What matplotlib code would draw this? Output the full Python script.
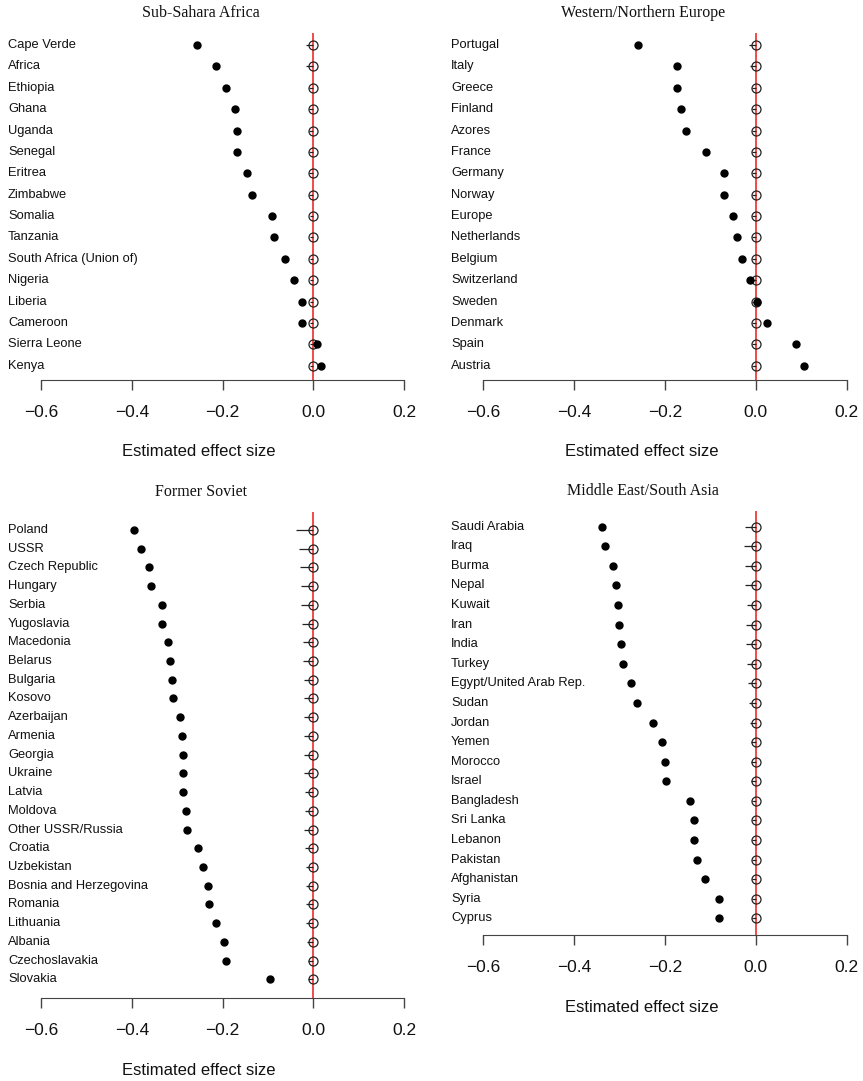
import matplotlib
matplotlib.use("Agg")
import matplotlib.pyplot as plt
import matplotlib.transforms as mtransforms

# ---- data ----
africa_names = ["Cape Verde", "Africa", "Ethiopia", "Ghana", "Uganda", "Senegal", "Eritrea",
                "Zimbabwe", "Somalia", "Tanzania", "South Africa (Union of)", "Nigeria",
                "Liberia", "Cameroon", "Sierra Leone", "Kenya"]
africa_est = [-0.257, -0.214, -0.192, -0.172, -0.169, -0.167, -0.147, -0.134, -0.090, -0.087,
              -0.062, -0.042, -0.024, -0.024, 0.008, 0.016]
africa_ref_low = [-0.016, -0.016, -0.010, -0.010, -0.010, -0.010, -0.010, -0.010, -0.008, -0.008,
                  -0.008, -0.008, -0.008, -0.008, -0.008, -0.008]

europe_names = ["Portugal", "Italy", "Greece", "Finland", "Azores", "France", "Germany", "Norway",
                "Europe", "Netherlands", "Belgium", "Switzerland", "Sweden", "Denmark", "Spain",
                "Austria"]
europe_est = [-0.260, -0.174, -0.173, -0.164, -0.153, -0.109, -0.071, -0.071, -0.051, -0.041,
              -0.031, -0.013, 0.003, 0.025, 0.089, 0.106]
europe_ref_low = [-0.015, -0.012, -0.009, -0.009, -0.009, -0.008, -0.008, -0.008, -0.008, -0.008,
                  -0.008, -0.008, -0.008, -0.008, -0.008, -0.008]

soviet_names = ["Poland", "USSR", "Czech Republic", "Hungary", "Serbia", "Yugoslavia", "Macedonia",
                "Belarus", "Bulgaria", "Kosovo", "Azerbaijan", "Armenia", "Georgia", "Ukraine",
                "Latvia", "Moldova", "Other USSR/Russia", "Croatia", "Uzbekistan",
                "Bosnia and Herzegovina", "Romania", "Lithuania", "Albania", "Czechoslavakia",
                "Slovakia"]
soviet_est = [-0.396, -0.380, -0.363, -0.358, -0.333, -0.333, -0.320, -0.316, -0.312, -0.308,
              -0.293, -0.290, -0.288, -0.287, -0.286, -0.281, -0.278, -0.254, -0.242, -0.231,
              -0.230, -0.214, -0.197, -0.192, -0.095]
soviet_ref_low = [-0.037, -0.032, -0.029, -0.028, -0.026, -0.025, -0.023, -0.022, -0.021, -0.021,
                  -0.021, -0.020, -0.020, -0.020, -0.018, -0.018, -0.020, -0.018, -0.015, -0.016,
                  -0.016, -0.015, -0.013, -0.011, -0.011]

mideast_names = ["Saudi Arabia", "Iraq", "Burma", "Nepal", "Kuwait", "Iran", "India", "Turkey",
                 "Egypt/United Arab Rep.", "Sudan", "Jordan", "Yemen", "Morocco", "Israel",
                 "Bangladesh", "Sri Lanka", "Lebanon", "Pakistan", "Afghanistan", "Syria", "Cyprus"]
mideast_est = [-0.339, -0.332, -0.315, -0.308, -0.303, -0.301, -0.296, -0.292, -0.274, -0.262,
               -0.226, -0.206, -0.200, -0.197, -0.146, -0.137, -0.137, -0.129, -0.111, -0.082,
               -0.082]
mideast_ref_low = [-0.023, -0.026, -0.023, -0.023, -0.020, -0.022, -0.021, -0.020, -0.018, -0.014,
                   -0.012, -0.011, -0.011, -0.011, -0.009, -0.009, -0.009, -0.009, -0.009, -0.009,
                   -0.009]

titles = ["Sub-Sahara Africa", "Western/Northern Europe", "Former Soviet", "Middle East/South Asia"]
xticks = [-0.6, -0.4, -0.2, 0.0, 0.2]
xtick_labels = ["\u22120.6", "\u22120.4", "\u22120.2", "0.0", "0.2"]

# ---- layout in pixels: (data left, data right, top, axis line, first row y, row spacing, label x)
W, H = 863, 1081
panels = [
    (africa_names, africa_est, africa_ref_low, (41, 404, 33, 380, 45, 21.38, 8)),
    (europe_names, europe_est, europe_ref_low, (483.3, 846.7, 33, 380, 45, 21.38, 451)),
    (soviet_names, soviet_est, soviet_ref_low, (41, 404, 511.7, 998.3, 530, 18.72, 8)),
    (mideast_names, mideast_est, mideast_ref_low, (483.3, 846.7, 510.7, 935, 526.7, 19.58, 451)),
]

fig = plt.figure(figsize=(W / 100, H / 100), dpi=100)
sans = "Liberation Sans"
serif = "Liberation Serif"

for (names, est, low, lay), title in zip(panels, titles):
    x0, x1, top, bot, row0, step, labx = lay
    ax = fig.add_axes([x0 / W, 1 - bot / H, (x1 - x0) / W, (bot - top) / H])
    n = len(names)
    rows = list(range(n))
    ax.set_xlim(-0.6, 0.2)
    ax.set_ylim((bot - row0) / step, (top - row0) / step)

    ax.axvline(0, color="#f03c3c", lw=1.3, zorder=1)
    ax.hlines(rows, low, [0] * n, color="#222222", lw=0.9, zorder=2)
    ax.plot([0] * n, rows, "o", ms=6.5, mfc="none", mec="#222222", mew=0.9, zorder=3)
    ax.plot(est, rows, "o", ms=5, color="black", zorder=4)

    for s in ["top", "right", "left"]:
        ax.spines[s].set_visible(False)
    ax.spines["bottom"].set_color("#444444")
    ax.spines["bottom"].set_bounds(-0.6, 0.2)
    ax.set_yticks([])
    ax.set_xticks(xticks)
    ax.set_xticklabels(xtick_labels, fontfamily=sans, fontsize=12.5)
    ax.tick_params(axis="x", length=7, width=1, color="#444444", pad=11, labelcolor="#111111")

    trans = mtransforms.blended_transform_factory(fig.transFigure, ax.transData)
    for i, name in enumerate(names):
        ax.text(labx / W, i, name, transform=trans, ha="left", va="center",
                fontfamily=sans, fontsize=9.3, color="#111111")

    fig.text((x0 + 160) / W, 1 - (top - 20) / H, title, ha="center", va="center",
             fontfamily=serif, fontsize=11.5, color="#111111")
    fig.text((x0 + 158) / W, 1 - (bot + 72) / H, "Estimated effect size", ha="center",
             va="center", fontfamily=sans, fontsize=12, color="#111111")

fig.savefig("out.png", dpi=100)
